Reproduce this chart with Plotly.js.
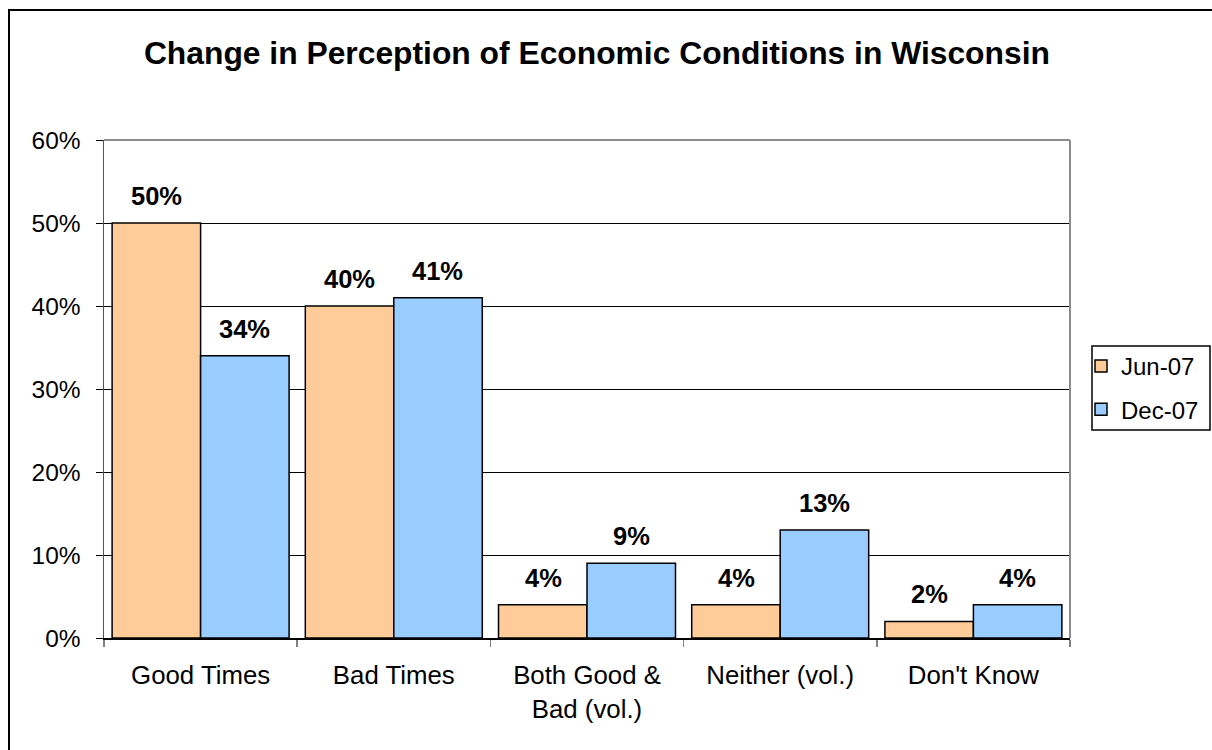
<!DOCTYPE html>
<html>
<head>
<meta charset="utf-8">
<script src="https://cdn.plot.ly/plotly-3.0.1.min.js"></script>
<style>html,body{margin:0;padding:0;background:#fff}#chart{width:1212px;height:750px}</style>
</head>
<body>
<div id="chart"></div>
<script>
const categories = ["Good Times", "Bad Times", "Both Good &<br>Bad (vol.)", "Neither (vol.)", "Don't Know"];
const seriesNames = ["Jun-07", "Dec-07"];
const jun07 = [0.50, 0.40, 0.04, 0.04, 0.02];
const dec07 = [0.34, 0.41, 0.09, 0.13, 0.04];
const colors = ["#FFCC99", "#99CCFF"];

const FONT = "Liberation Sans, Arial, sans-serif";
const allSeries = [jun07, dec07];

const traces = allSeries.map((vals, i) => ({
  type: "bar",
  name: seriesNames[i],
  x: categories,
  y: vals,
  legendgroup: "g" + i,
  marker: { color: colors[i], line: { color: "#000", width: 1.5 } },
  hoverinfo: "skip"
}));

const annotations = [];
allSeries.forEach((vals, i) => {
  vals.forEach((v, j) => {
    annotations.push({
      x: categories[j], y: v, xref: "x", yref: "y",
      text: "<b>" + Math.round(v * 100) + "%</b>",
      showarrow: false,
      xshift: i === 0 ? -44 : 44,
      yanchor: "middle",
      yshift: 27,
      font: { family: FONT, size: 25.5, color: "#000" }
    });
  });
});

const PW = 966, PH = 498;
const layout = {
  width: 1212, height: 750,
  margin: { l: 104, r: 142, t: 140, b: 112, autoexpand: false },
  paper_bgcolor: "#fff", plot_bgcolor: "#fff",
  font: { family: FONT, color: "#000", size: 24 },
  title: {
    text: "<b>Change in Perception of Economic Conditions in Wisconsin</b>",
    font: { family: FONT, size: 31.8, color: "#000" },
    x: 0.4925, xanchor: "center", xref: "container",
    y: 1 - 53 / 750, yanchor: "middle", yref: "container"
  },
  barmode: "group",
  bargap: 0.084,
  bargroupgap: 0,
  showlegend: true,
  legend: {
    x: (1081 - 104) / PW, xanchor: "left",
    y: (638 - 388) / PH, yanchor: "middle",
    borderwidth: 0,
    font: { family: FONT, size: 24, color: "#000" },
    traceorder: "grouped", tracegroupgap: 9,
    itemwidth: 30,
    bgcolor: "rgba(0,0,0,0)"
  },
  xaxis: {
    type: "category",
    tickson: "boundaries",
    ticks: "outside", ticklen: 7, tickcolor: "#808080", tickwidth: 1.5,
    showline: true, linecolor: "#000", linewidth: 1.5,
    showgrid: false, zeroline: false,
    ticklabelstandoff: 14,
    tickfont: { family: FONT, size: 25.8, color: "#000" },
    fixedrange: true
  },
  yaxis: {
    range: [0, 0.6],
    tickvals: [0, 0.1, 0.2, 0.3, 0.4, 0.5, 0.6],
    ticktext: ["0%", "10%", "20%", "30%", "40%", "50%", "60%"],
    ticks: "outside", ticklen: 7, tickcolor: "#000", tickwidth: 1,
    showline: true, linecolor: "#555", linewidth: 1.5,
    showgrid: true, gridcolor: "#000", gridwidth: 1,
    zeroline: false,
    ticklabelstandoff: 10,
    tickfont: { family: FONT, size: 24.5, color: "#000" },
    fixedrange: true
  },
  annotations: annotations,
  shapes: [
    { type: "line", xref: "paper", yref: "paper", x0: 0, x1: 1, y0: 1, y1: 1,
      line: { color: "#8c8c8c", width: 2 }, layer: "above" },
    { type: "line", xref: "paper", yref: "paper", x0: 1, x1: 1, y0: 0, y1: 1,
      line: { color: "#8c8c8c", width: 2 }, layer: "above" },
    { type: "rect", xref: "paper", yref: "paper",
      x0: (1092 - 104) / PW, x1: (1210 - 104) / PW,
      y0: (638 - 430) / PH, y1: (638 - 346) / PH,
      line: { color: "#000", width: 1.5 }, fillcolor: "rgba(0,0,0,0)", layer: "above" },
    { type: "rect", xref: "paper", yref: "paper",
      x0: (9 - 104) / PW, x1: (1240 - 104) / PW,
      y0: (638 - 780) / PH, y1: (638 - 10) / PH,
      line: { color: "#000", width: 2 }, fillcolor: "rgba(0,0,0,0)", layer: "above" }
  ]
};

Plotly.newPlot("chart", traces, layout, { displayModeBar: false, staticPlot: true });
</script>
</body>
</html>
